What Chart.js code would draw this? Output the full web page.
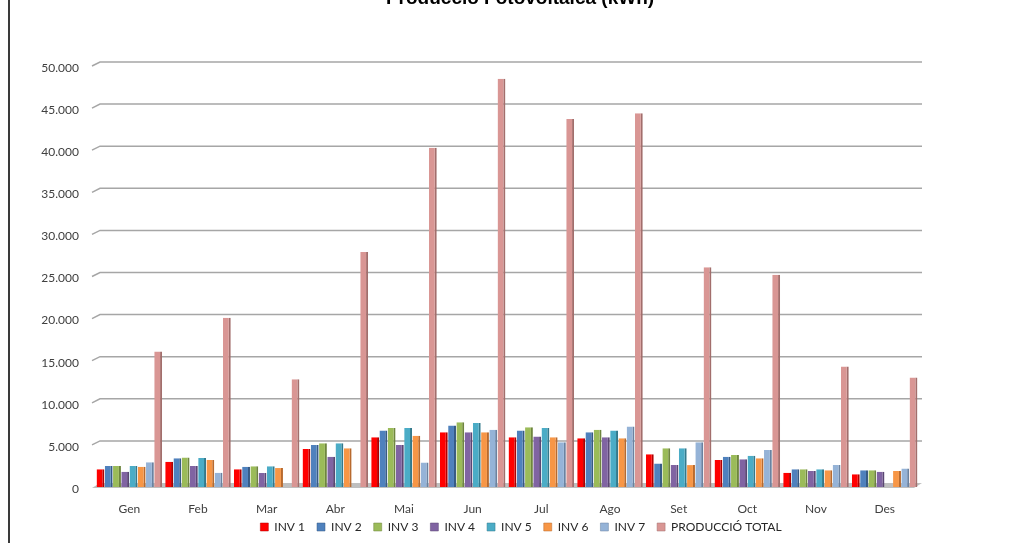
<!DOCTYPE html>
<html>
<head>
<meta charset="utf-8">
<script src="https://cdn.jsdelivr.net/npm/chart.js@4"></script>
<style>
  html, body { margin: 0; padding: 0; background: #fff; }
  .frame { position: relative; width: 1015px; height: 543px; overflow: hidden; }
  .frame .edge { position: absolute; left: 8px; top: 0; width: 2px; height: 543px; background: #3a3a3a; }
  canvas { position: absolute; left: 0; top: 0; }
</style>
</head>
<body>
<div class="frame">
  <canvas id="chart" width="1015" height="543"></canvas>
  <div class="edge"></div>
</div>
<script>
const months = ["Gen", "Feb", "Mar", "Abr", "Mai", "Jun", "Jul", "Ago", "Set", "Oct", "Nov", "Des"];
const inv1 = [2100, 3000, 2100, 4500, 5900, 6500, 5900, 5800, 3900, 3200, 1700, 1500];
const inv2 = [2500, 3400, 2400, 5000, 6700, 7300, 6700, 6500, 2800, 3600, 2100, 2000];
const inv3 = [2500, 3500, 2450, 5200, 7000, 7700, 7100, 6800, 4600, 3800, 2100, 2000];
const inv4 = [1800, 2500, 1650, 3600, 5000, 6500, 6000, 5900, 2600, 3300, 1900, 1800];
const inv5 = [2500, 3450, 2450, 5200, 7000, 7600, 7000, 6700, 4600, 3700, 2100, 0];
const inv6 = [2400, 3200, 2250, 4600, 6100, 6500, 5900, 5800, 2600, 3400, 2000, 1900];
const inv7 = [2950, 1700, 0, 0, 2900, 6800, 5300, 7200, 5300, 4400, 2600, 2200];
const total = [16100, 20100, 12800, 27900, 40300, 48500, 43700, 44400, 26100, 25200, 14300, 13000];
const yTicks = [0, 5000, 10000, 15000, 20000, 25000, 30000, 35000, 40000, 45000, 50000];

const seriesNames = ["INV 1", "INV 2", "INV 3", "INV 4", "INV 5", "INV 6", "INV 7", "PRODUCCIÓ TOTAL"];
const seriesData = [inv1, inv2, inv3, inv4, inv5, inv6, inv7, total];
const fills = ["#FF0000", "#4F81BD", "#9BBB59", "#8064A2", "#4BACC6", "#F79646", "#95B3D7", "#D99694"];
const sides = ["#B00000", "#375A85", "#6E853E", "#5A4673", "#33798C", "#B86A2E", "#6A82A0", "#A26E6C"];

const fmt = (v) => String(v).replace(/\B(?=(\d{3})+(?!\d))/g, ".");

// back-wall grid lines with the little 3d slant on the left, plus the title
const gridWall = {
  id: "gridWall",
  beforeDatasetsDraw(chart) {
    const { ctx, chartArea } = chart;
    const y = chart.scales.y;
    ctx.save();
    ctx.strokeStyle = "#A6A6A6";
    ctx.lineWidth = 1.5;
    yTicks.forEach((v) => {
      if (v === 0) return;
      const py = y.getPixelForValue(v);
      ctx.beginPath();
      ctx.moveTo(chartArea.left - 3, py);
      ctx.lineTo(chartArea.left + 5, py - 4);
      ctx.lineTo(chartArea.right + 3, py - 4);
      ctx.stroke();
    });
    // floor
    const p0 = y.getPixelForValue(0);
    ctx.fillStyle = "#BFBFBF";
    ctx.beginPath();
    ctx.moveTo(chartArea.left - 3, p0 + 1);
    ctx.lineTo(chartArea.left + 5, p0 - 4);
    ctx.lineTo(chartArea.right + 3, p0 - 4);
    ctx.lineTo(chartArea.right - 5, p0 + 1);
    ctx.closePath();
    ctx.fill();
    ctx.restore();
  },
  afterDraw(chart) {
    const { ctx } = chart;
    ctx.save();
    ctx.fillStyle = "#000";
    ctx.font = "bold 19px 'Liberation Sans'";
    ctx.textAlign = "center";
    ctx.textBaseline = "alphabetic";
    ctx.fillText("Producció Fotovoltaica (kWh)", 520, 4);
    ctx.restore();
  },
};

new Chart(document.getElementById("chart"), {
  type: "bar",
  data: {
    labels: months,
    datasets: seriesNames.map((name, i) => ({
      label: name,
      data: seriesData[i],
      backgroundColor: fills[i],
      borderColor: sides[i],
      borderWidth: { top: 0, right: 2, bottom: 0, left: 0 },
      borderSkipped: false,
      categoryPercentage: 0.96,
      barPercentage: 0.95,
    })),
  },
  options: {
    responsive: false,
    animation: false,
    // negative right padding keeps the legend centred like the original
    layout: { padding: { left: 10, right: -17, top: 66, bottom: 0 } },
    scales: {
      x: {
        grid: { display: false, drawTicks: false },
        border: { display: false },
        // mirror stops the labels being clipped to the short axis box
        ticks: { color: "#404040", font: { family: "Lato", size: 12 }, mirror: true, padding: -29 },
        afterFit: (scale) => { scale.height = 22; },
      },
      y: {
        min: 0,
        max: 50000,
        grid: { display: false, drawTicks: false },
        border: { display: false },
        afterBuildTicks: (scale) => { scale.ticks = yTicks.map((v) => ({ value: v })); },
        afterFit: (scale) => { scale.width = 85; },
        ticks: {
          color: "#404040",
          font: { family: "Lato", size: 12 },
          padding: 16,
          labelOffset: 2,
          callback: (v) => fmt(v),
        },
      },
      y2: {
        position: "right",
        grid: { display: false, drawTicks: false },
        border: { display: false },
        ticks: { display: false },
        afterFit: (scale) => { scale.width = 113; },
      },
    },
    plugins: {
      legend: {
        position: "bottom",
        labels: {
          color: "#262626",
          font: { family: "Lato", size: 12 },
          boxWidth: 8,
          boxHeight: 8,
          padding: 12,
        },
      },
      tooltip: { enabled: false },
    },
  },
  plugins: [gridWall],
});
</script>
</body>
</html>
